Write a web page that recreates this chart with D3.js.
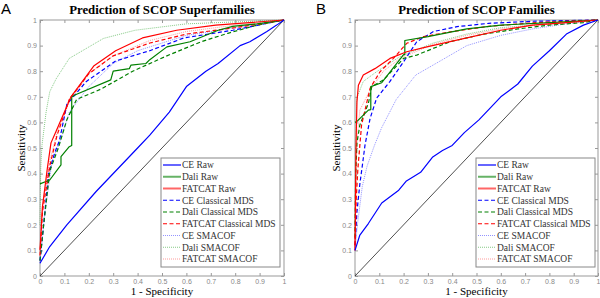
<!DOCTYPE html>
<html>
<head>
<meta charset="utf-8">
<script src="https://cdn.jsdelivr.net/npm/d3@7"></script>
<style>
  body { margin: 0; background: #fff; }
  svg .tick text { fill: #888; font-family: "Liberation Sans", Arial, sans-serif; font-size: 7px; }
</style>
</head>
<body>
<div id="chart"></div>
<script>
// ---- data: [1 - specificity, sensitivity] ----
const seriesNames = ["CE Raw", "Dali Raw", "FATCAT Raw", "CE Classical MDS", "Dali Classical MDS",
  "FATCAT Classical MDS", "CE SMACOF", "Dali SMACOF", "FATCAT SMACOF"];

const tickValues = [0, 0.1, 0.2, 0.3, 0.4, 0.5, 0.6, 0.7, 0.8, 0.9, 1];

// Panel A: SCOP superfamilies
const ceRawA = [[0,0.05],[0.04,0.115],[0.11,0.2],[0.23,0.33],[0.4,0.5],[0.45,0.55],[0.53,0.64],[0.6,0.74],[0.68,0.8],[0.73,0.83],[0.82,0.9],[0.86,0.915],[0.93,0.955],[0.97,0.98],[1,1]];
const daliRawA = [[0,0.36],[0.04,0.375],[0.086,0.434],[0.086,0.466],[0.12,0.505],[0.13,0.51],[0.13,0.70],[0.15,0.71],[0.29,0.766],[0.30,0.80],[0.366,0.81],[0.373,0.824],[0.434,0.83],[0.45,0.845],[0.52,0.895],[0.615,0.915],[0.73,0.96],[0.79,0.975],[0.89,0.985],[1,1]];
const fatcatRawA = [[0,0.1],[0.01,0.27],[0.03,0.42],[0.045,0.52],[0.066,0.565],[0.127,0.70],[0.22,0.82],[0.31,0.88],[0.42,0.93],[0.56,0.96],[0.72,0.98],[1,1]];
const ceMdsA = [[0,0.06],[0.015,0.2],[0.035,0.4],[0.06,0.48],[0.08,0.53],[0.11,0.67],[0.19,0.76],[0.31,0.84],[0.45,0.88],[0.59,0.93],[0.79,0.96],[1,1]];
const daliMdsA = [[0,0.06],[0.015,0.2],[0.04,0.41],[0.075,0.5],[0.11,0.61],[0.15,0.69],[0.25,0.73],[0.38,0.80],[0.52,0.86],[0.66,0.915],[0.77,0.948],[0.89,0.98],[1,1]];
const fatcatMdsA = [[0,0.08],[0.01,0.25],[0.04,0.43],[0.07,0.55],[0.12,0.69],[0.2,0.79],[0.3,0.86],[0.45,0.91],[0.6,0.945],[0.8,0.97],[1,1]];
const ceSmacofA = [[0,0.05],[0.02,0.25],[0.05,0.45],[0.08,0.52],[0.12,0.64],[0.2,0.74],[0.3,0.83],[0.4,0.88],[0.6,0.94],[0.8,0.97],[1,1]];
const daliSmacofA = [[0,0.2],[0.003,0.42],[0.008,0.51],[0.025,0.64],[0.04,0.72],[0.066,0.77],[0.12,0.85],[0.26,0.928],[0.39,0.96],[0.6,0.985],[1,1]];
const fatcatSmacofA = [[0,0.08],[0.01,0.27],[0.04,0.45],[0.07,0.56],[0.12,0.68],[0.2,0.79],[0.3,0.86],[0.45,0.92],[0.6,0.955],[0.8,0.98],[1,1]];

// Panel B: SCOP families
const ceRawB = [[0,0.1],[0.02,0.16],[0.055,0.205],[0.11,0.285],[0.18,0.335],[0.21,0.37],[0.27,0.405],[0.32,0.465],[0.36,0.49],[0.4,0.51],[0.45,0.56],[0.51,0.61],[0.6,0.7],[0.67,0.75],[0.73,0.82],[0.8,0.88],[0.87,0.945],[0.94,0.98],[1,1]];
const daliRawB = [[0,0.6],[0.007,0.603],[0.055,0.648],[0.065,0.65],[0.065,0.74],[0.11,0.755],[0.2,0.865],[0.205,0.865],[0.205,0.92],[0.3,0.935],[0.46,0.965],[0.6,0.98],[0.8,0.99],[1,1]];
const fatcatRawB = [[0,0.1],[0.004,0.5],[0.008,0.68],[0.014,0.745],[0.034,0.785],[0.082,0.81],[0.144,0.85],[0.213,0.876],[0.3,0.896],[0.46,0.93],[0.6,0.96],[0.73,0.98],[0.87,0.99],[1,1]];
const ceMdsB = [[0,0.12],[0.008,0.25],[0.02,0.36],[0.03,0.43],[0.041,0.51],[0.062,0.615],[0.089,0.695],[0.144,0.76],[0.2,0.837],[0.254,0.915],[0.323,0.955],[0.42,0.974],[0.55,0.987],[0.73,0.995],[1,1]];
const daliMdsB = [[0,0.15],[0.003,0.4],[0.008,0.52],[0.02,0.59],[0.055,0.674],[0.069,0.74],[0.117,0.766],[0.2,0.85],[0.254,0.863],[0.39,0.915],[0.53,0.945],[0.67,0.965],[0.8,0.98],[0.94,0.99],[1,1]];
const fatcatMdsB = [[0,0.12],[0.005,0.3],[0.012,0.42],[0.027,0.59],[0.062,0.733],[0.103,0.798],[0.158,0.85],[0.213,0.909],[0.282,0.935],[0.4,0.955],[0.55,0.975],[0.75,0.99],[1,1]];
const ceSmacofB = [[0,0.1],[0.01,0.2],[0.03,0.35],[0.05,0.43],[0.08,0.51],[0.11,0.58],[0.17,0.69],[0.25,0.785],[0.36,0.845],[0.46,0.9],[0.6,0.94],[0.73,0.965],[0.87,0.985],[1,1]];
const daliSmacofB = [[0,0.15],[0.003,0.55],[0.007,0.694],[0.034,0.76],[0.089,0.798],[0.185,0.857],[0.322,0.91],[0.46,0.945],[0.6,0.97],[0.8,0.985],[1,1]];
const fatcatSmacofB = [[0,0.1],[0.005,0.45],[0.01,0.55],[0.02,0.648],[0.062,0.726],[0.117,0.8],[0.185,0.85],[0.322,0.905],[0.46,0.94],[0.6,0.965],[0.8,0.985],[1,1]];

// line styles per series (same order as seriesNames)
const styles = [
  { color: "#0000ff", width: 1.2, dash: null },
  { color: "#008000", width: 1.2, dash: null },
  { color: "#ff0000", width: 1.2, dash: null },
  { color: "#0000ff", width: 1.2, dash: "4,2.5" },
  { color: "#008000", width: 1.2, dash: "4,2.5" },
  { color: "#ff0000", width: 1.2, dash: "4,2.5" },
  { color: "#7777ff", width: 0.8, dash: "1,1" },
  { color: "#66bb66", width: 0.8, dash: "1,1" },
  { color: "#ff8080", width: 0.8, dash: "1,1" }
];

const serif = "'Liberation Serif', 'Tinos', 'Times New Roman', 'DejaVu Serif', serif";

const width = 600, height = 298;
const svg = d3.select("#chart").append("svg")
  .attr("width", width)
  .attr("height", height);

function drawPanel(opts) {
  const x = d3.scaleLinear().domain([0, 1]).range([opts.left, opts.right]);
  const y = d3.scaleLinear().domain([0, 1]).range([opts.bottom, opts.top]);

  // plot box
  svg.append("rect")
    .attr("x", opts.left).attr("y", opts.top)
    .attr("width", opts.right - opts.left).attr("height", opts.bottom - opts.top)
    .attr("fill", "#fff").attr("stroke", "#999").attr("stroke-width", 1);

  const fmt = d => d === 0 ? "0" : d === 1 ? "1" : d3.format(".1f")(d);

  // axes with inward ticks on every side (matlab style)
  const axes = [
    [d3.axisBottom(x), `translate(0,${opts.bottom})`, true],
    [d3.axisLeft(y), `translate(${opts.left},0)`, true],
    [d3.axisTop(x), `translate(0,${opts.top})`, false],
    [d3.axisRight(y), `translate(${opts.right},0)`, false]
  ];
  axes.forEach(([ax, tr, labels]) => {
    const g = svg.append("g")
      .attr("transform", tr)
      .call(ax.tickValues(tickValues).tickSizeInner(-3).tickSizeOuter(0).tickPadding(3)
        .tickFormat(labels ? fmt : ""));
    g.select(".domain").remove();
    g.selectAll(".tick line").attr("stroke", "#999");
  });

  // chance diagonal
  svg.append("line")
    .attr("x1", x(0)).attr("y1", y(0)).attr("x2", x(1)).attr("y2", y(1))
    .attr("stroke", "#222").attr("stroke-width", 0.8);

  const line = d3.line().x(d => x(d[0])).y(d => y(d[1]));

  // draw dotted first, raw last
  const order = [6, 7, 8, 3, 4, 5, 1, 2, 0];
  order.forEach(i => {
    const s = styles[i];
    svg.append("path")
      .datum(opts.series[i])
      .attr("fill", "none")
      .attr("stroke", s.color)
      .attr("stroke-width", s.width)
      .attr("stroke-dasharray", s.dash)
      .attr("stroke-linejoin", "round")
      .attr("d", line);
  });

  // legend
  const lg = opts.legend;
  svg.append("rect")
    .attr("x", lg.x).attr("y", lg.y).attr("width", lg.w).attr("height", lg.h)
    .attr("fill", "#fff").attr("stroke", "#888").attr("stroke-width", 1);
  seriesNames.forEach((name, i) => {
    const s = styles[i];
    const yy = lg.y + 7 + i * 11.75;
    svg.append("line")
      .attr("x1", lg.x + 2).attr("x2", lg.x + 20)
      .attr("y1", yy).attr("y2", yy)
      .attr("stroke", s.color)
      .attr("stroke-opacity", i < 3 ? 0.6 : 1)
      .attr("stroke-width", i < 3 ? 2 : s.width)
      .attr("stroke-dasharray", s.dash);
    svg.append("text")
      .attr("x", lg.x + 21).attr("y", yy + 3.3)
      .style("font-family", serif)
      .style("font-size", "9.5px")
      .attr("fill", "#333")
      .text(name);
  });

  // title, axis labels, panel letter
  svg.append("text")
    .attr("x", (opts.left + opts.right) / 2).attr("y", 13.5)
    .attr("text-anchor", "middle")
    .style("font-family", serif)
    .style("font-size", "12.8px").style("font-weight", "bold")
    .text(opts.title);

  svg.append("text")
    .attr("x", (opts.left + opts.right) / 2).attr("y", 295)
    .attr("text-anchor", "middle")
    .style("font-family", serif)
    .style("font-size", "11px")
    .text("1 - Specificity");

  svg.append("text")
    .attr("transform", `translate(${opts.left - 15},${(opts.top + opts.bottom) / 2}) rotate(-90)`)
    .attr("text-anchor", "middle")
    .style("font-family", serif)
    .style("font-size", "11px")
    .text("Sensitivity");

  svg.append("text")
    .attr("x", opts.letterX).attr("y", 14)
    .style("font-family", "'Liberation Sans', Arial, sans-serif")
    .style("font-size", "15px")
    .text(opts.letter);
}

drawPanel({
  left: 40, right: 284, top: 20, bottom: 276,
  title: "Prediction of SCOP Superfamilies", letter: "A", letterX: 1,
  legend: { x: 161, y: 158, w: 119, h: 109 },
  series: [ceRawA, daliRawA, fatcatRawA, ceMdsA, daliMdsA, fatcatMdsA, ceSmacofA, daliSmacofA, fatcatSmacofA]
});

drawPanel({
  left: 355, right: 598, top: 20, bottom: 276,
  title: "Prediction of SCOP Families", letter: "B", letterX: 316,
  legend: { x: 476, y: 158, w: 119, h: 109 },
  series: [ceRawB, daliRawB, fatcatRawB, ceMdsB, daliMdsB, fatcatMdsB, ceSmacofB, daliSmacofB, fatcatSmacofB]
});
</script>
</body>
</html>
